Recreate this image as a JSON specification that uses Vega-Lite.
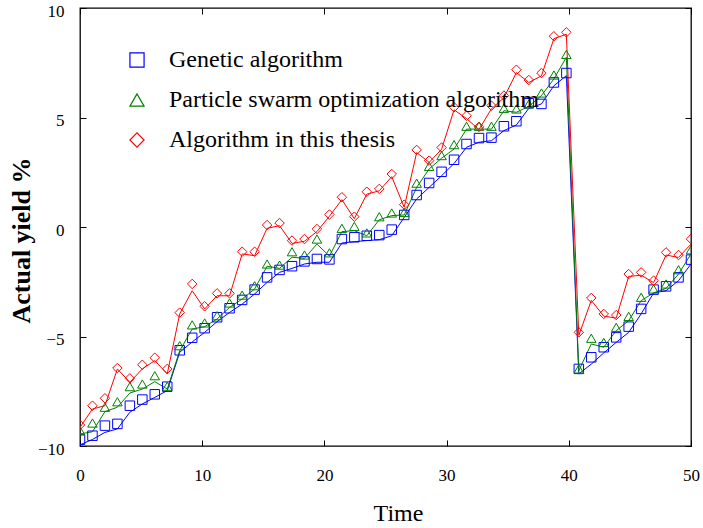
{
"$schema":"https://vega.github.io/schema/vega-lite/v6.json",
"width":611,"height":438,
"autosize":{"type":"none"},
"padding":{"left":80,"top":8,"right":12,"bottom":82},
"background":"white",
"config":{
 "view":{"stroke":"#000","strokeWidth":1.3},
 "font":"Liberation Serif",
 "axis":{"domain":false,"grid":false,"tickColor":"#000","tickSize":-6,"tickWidth":1,"labelFlush":false,"labelFont":"Liberation Serif","labelFontSize":17,"labelColor":"#000","titleColor":"#000","titleFont":"Liberation Serif","titleFontWeight":"normal"},
 "legend":{"labelFont":"Liberation Serif"}
},
"data":{"values":[
{"t":0,"s":"Genetic algorithm","m":-9.71,"l":-9.95},
{"t":1.02,"s":"Genetic algorithm","m":-9.53,"l":-9.7},
{"t":2.04,"s":"Genetic algorithm","m":-9.07,"l":-9.38},
{"t":3.06,"s":"Genetic algorithm","m":-8.99,"l":-9.22},
{"t":4.08,"s":"Genetic algorithm","m":-8.16,"l":-8.46},
{"t":5.1,"s":"Genetic algorithm","m":-7.88,"l":-8.08},
{"t":6.12,"s":"Genetic algorithm","m":-7.64,"l":-7.78},
{"t":7.14,"s":"Genetic algorithm","m":-7.29,"l":-7.47},
{"t":8.16,"s":"Genetic algorithm","m":-5.63,"l":-5.72},
{"t":9.18,"s":"Genetic algorithm","m":-5.06,"l":-5.25},
{"t":10.2,"s":"Genetic algorithm","m":-4.62,"l":-4.81},
{"t":11.22,"s":"Genetic algorithm","m":-4.12,"l":-4.32},
{"t":12.24,"s":"Genetic algorithm","m":-3.71,"l":-3.9},
{"t":13.27,"s":"Genetic algorithm","m":-3.33,"l":-3.52},
{"t":14.29,"s":"Genetic algorithm","m":-2.86,"l":-3.06},
{"t":15.31,"s":"Genetic algorithm","m":-2.3,"l":-2.53},
{"t":16.33,"s":"Genetic algorithm","m":-1.96,"l":-2.07},
{"t":17.35,"s":"Genetic algorithm","m":-1.79,"l":-1.89},
{"t":18.37,"s":"Genetic algorithm","m":-1.57,"l":-1.69},
{"t":19.39,"s":"Genetic algorithm","m":-1.46,"l":-1.61},
{"t":20.41,"s":"Genetic algorithm","m":-1.48,"l":-1.61},
{"t":21.43,"s":"Genetic algorithm","m":-0.55,"l":-0.73},
{"t":22.45,"s":"Genetic algorithm","m":-0.47,"l":-0.67},
{"t":23.47,"s":"Genetic algorithm","m":-0.4,"l":-0.62},
{"t":24.49,"s":"Genetic algorithm","m":-0.37,"l":-0.58},
{"t":25.51,"s":"Genetic algorithm","m":-0.12,"l":-0.4},
{"t":26.53,"s":"Genetic algorithm","m":0.55,"l":0.44},
{"t":27.55,"s":"Genetic algorithm","m":1.46,"l":1.28},
{"t":28.57,"s":"Genetic algorithm","m":2.01,"l":1.81},
{"t":29.59,"s":"Genetic algorithm","m":2.52,"l":2.34},
{"t":30.61,"s":"Genetic algorithm","m":3.07,"l":2.9},
{"t":31.63,"s":"Genetic algorithm","m":3.79,"l":3.64},
{"t":32.65,"s":"Genetic algorithm","m":4.06,"l":3.87},
{"t":33.67,"s":"Genetic algorithm","m":4.08,"l":3.94},
{"t":34.69,"s":"Genetic algorithm","m":4.6,"l":4.4},
{"t":35.71,"s":"Genetic algorithm","m":4.83,"l":4.66},
{"t":36.73,"s":"Genetic algorithm","m":5.65,"l":5.42},
{"t":37.76,"s":"Genetic algorithm","m":5.62,"l":5.62},
{"t":38.78,"s":"Genetic algorithm","m":6.6,"l":6.45},
{"t":39.8,"s":"Genetic algorithm","m":7.03,"l":6.91},
{"t":40.82,"s":"Genetic algorithm","m":-6.48,"l":-6.71},
{"t":41.84,"s":"Genetic algorithm","m":-5.95,"l":-6.26},
{"t":42.86,"s":"Genetic algorithm","m":-5.49,"l":-5.75},
{"t":43.88,"s":"Genetic algorithm","m":-5.04,"l":-5.27},
{"t":44.9,"s":"Genetic algorithm","m":-4.55,"l":-4.81},
{"t":45.92,"s":"Genetic algorithm","m":-3.74,"l":-3.97},
{"t":46.94,"s":"Genetic algorithm","m":-2.86,"l":-3.01},
{"t":47.96,"s":"Genetic algorithm","m":-2.71,"l":-2.91},
{"t":48.98,"s":"Genetic algorithm","m":-2.3,"l":-2.45},
{"t":50,"s":"Genetic algorithm","m":-1.49,"l":-1.69},
{"t":0,"s":"Particle swarm optimization algorithm","m":-9.3,"l":-9.45},
{"t":1.02,"s":"Particle swarm optimization algorithm","m":-8.95,"l":-9.35},
{"t":2.04,"s":"Particle swarm optimization algorithm","m":-8.23,"l":-8.43},
{"t":3.06,"s":"Particle swarm optimization algorithm","m":-7.98,"l":-8.23},
{"t":4.08,"s":"Particle swarm optimization algorithm","m":-7.29,"l":-7.58},
{"t":5.1,"s":"Particle swarm optimization algorithm","m":-7.17,"l":-7.4},
{"t":6.12,"s":"Particle swarm optimization algorithm","m":-6.79,"l":-7.06},
{"t":7.14,"s":"Particle swarm optimization algorithm","m":-7.27,"l":-7.4},
{"t":8.16,"s":"Particle swarm optimization algorithm","m":-5.42,"l":-5.65},
{"t":9.18,"s":"Particle swarm optimization algorithm","m":-4.47,"l":-4.66},
{"t":10.2,"s":"Particle swarm optimization algorithm","m":-4.38,"l":-4.55},
{"t":11.22,"s":"Particle swarm optimization algorithm","m":-4.05,"l":-4.2},
{"t":12.24,"s":"Particle swarm optimization algorithm","m":-3.47,"l":-3.67},
{"t":13.27,"s":"Particle swarm optimization algorithm","m":-3.11,"l":-3.29},
{"t":14.29,"s":"Particle swarm optimization algorithm","m":-2.68,"l":-2.83},
{"t":15.31,"s":"Particle swarm optimization algorithm","m":-1.69,"l":-1.79},
{"t":16.33,"s":"Particle swarm optimization algorithm","m":-1.74,"l":-1.89},
{"t":17.35,"s":"Particle swarm optimization algorithm","m":-1.13,"l":-1.38},
{"t":18.37,"s":"Particle swarm optimization algorithm","m":-1.28,"l":-1.43},
{"t":19.39,"s":"Particle swarm optimization algorithm","m":-0.55,"l":-0.78},
{"t":20.41,"s":"Particle swarm optimization algorithm","m":-1.18,"l":-1.33},
{"t":21.43,"s":"Particle swarm optimization algorithm","m":-0.06,"l":-0.21},
{"t":22.45,"s":"Particle swarm optimization algorithm","m":0.03,"l":-0.17},
{"t":23.47,"s":"Particle swarm optimization algorithm","m":-0.27,"l":-0.4},
{"t":24.49,"s":"Particle swarm optimization algorithm","m":0.47,"l":0.33},
{"t":25.51,"s":"Particle swarm optimization algorithm","m":0.64,"l":0.52},
{"t":26.53,"s":"Particle swarm optimization algorithm","m":0.67,"l":0.55},
{"t":27.55,"s":"Particle swarm optimization algorithm","m":2.0,"l":1.81},
{"t":28.57,"s":"Particle swarm optimization algorithm","m":2.77,"l":2.65},
{"t":29.59,"s":"Particle swarm optimization algorithm","m":3.26,"l":3.14},
{"t":30.61,"s":"Particle swarm optimization algorithm","m":3.76,"l":3.56},
{"t":31.63,"s":"Particle swarm optimization algorithm","m":4.6,"l":4.47},
{"t":32.65,"s":"Particle swarm optimization algorithm","m":4.6,"l":4.47},
{"t":33.67,"s":"Particle swarm optimization algorithm","m":4.6,"l":4.47},
{"t":34.69,"s":"Particle swarm optimization algorithm","m":5.42,"l":5.31},
{"t":35.71,"s":"Particle swarm optimization algorithm","m":5.39,"l":5.24},
{"t":36.73,"s":"Particle swarm optimization algorithm","m":5.62,"l":5.51},
{"t":37.76,"s":"Particle swarm optimization algorithm","m":6.12,"l":6.0},
{"t":38.78,"s":"Particle swarm optimization algorithm","m":6.94,"l":6.76},
{"t":39.8,"s":"Particle swarm optimization algorithm","m":7.88,"l":7.75},
{"t":40.82,"s":"Particle swarm optimization algorithm","m":-6.48,"l":-6.56},
{"t":41.84,"s":"Particle swarm optimization algorithm","m":-5.08,"l":-5.34},
{"t":42.86,"s":"Particle swarm optimization algorithm","m":-5.27,"l":-5.49},
{"t":43.88,"s":"Particle swarm optimization algorithm","m":-4.58,"l":-4.73},
{"t":44.9,"s":"Particle swarm optimization algorithm","m":-4.08,"l":-4.28},
{"t":45.92,"s":"Particle swarm optimization algorithm","m":-3.21,"l":-3.36},
{"t":46.94,"s":"Particle swarm optimization algorithm","m":-2.83,"l":-3.01},
{"t":47.96,"s":"Particle swarm optimization algorithm","m":-2.6,"l":-2.8},
{"t":48.98,"s":"Particle swarm optimization algorithm","m":-1.95,"l":-2.15},
{"t":50,"s":"Particle swarm optimization algorithm","m":-1.04,"l":-1.23},
{"t":0,"s":"Algorithm in this thesis","m":-9.04,"l":-9.15},
{"t":1.02,"s":"Algorithm in this thesis","m":-8.16,"l":-8.31},
{"t":2.04,"s":"Algorithm in this thesis","m":-7.82,"l":-8.16},
{"t":3.06,"s":"Algorithm in this thesis","m":-6.44,"l":-6.48},
{"t":4.08,"s":"Algorithm in this thesis","m":-6.91,"l":-7.09},
{"t":5.1,"s":"Algorithm in this thesis","m":-6.29,"l":-6.48},
{"t":6.12,"s":"Algorithm in this thesis","m":-5.97,"l":-6.1},
{"t":7.14,"s":"Algorithm in this thesis","m":-6.48,"l":-6.71},
{"t":8.16,"s":"Algorithm in this thesis","m":-3.91,"l":-3.97},
{"t":9.18,"s":"Algorithm in this thesis","m":-2.6,"l":-2.91},
{"t":10.2,"s":"Algorithm in this thesis","m":-3.62,"l":-3.74},
{"t":11.22,"s":"Algorithm in this thesis","m":-3.03,"l":-3.14},
{"t":12.24,"s":"Algorithm in this thesis","m":-3.03,"l":-3.14},
{"t":13.27,"s":"Algorithm in this thesis","m":-1.13,"l":-1.23},
{"t":14.29,"s":"Algorithm in this thesis","m":-1.13,"l":-1.31},
{"t":15.31,"s":"Algorithm in this thesis","m":0.09,"l":-0.06},
{"t":16.33,"s":"Algorithm in this thesis","m":0.18,"l":0.06},
{"t":17.35,"s":"Algorithm in this thesis","m":-0.62,"l":-0.75},
{"t":18.37,"s":"Algorithm in this thesis","m":-0.55,"l":-0.65},
{"t":19.39,"s":"Algorithm in this thesis","m":-0.09,"l":-0.21},
{"t":20.41,"s":"Algorithm in this thesis","m":0.57,"l":0.49},
{"t":21.43,"s":"Algorithm in this thesis","m":1.36,"l":1.25},
{"t":22.45,"s":"Algorithm in this thesis","m":0.47,"l":0.38},
{"t":23.47,"s":"Algorithm in this thesis","m":1.61,"l":1.5},
{"t":24.49,"s":"Algorithm in this thesis","m":1.74,"l":1.65},
{"t":25.51,"s":"Algorithm in this thesis","m":2.42,"l":2.3},
{"t":26.53,"s":"Algorithm in this thesis","m":1.02,"l":0.9},
{"t":27.55,"s":"Algorithm in this thesis","m":3.52,"l":3.4},
{"t":28.57,"s":"Algorithm in this thesis","m":3.03,"l":2.95},
{"t":29.59,"s":"Algorithm in this thesis","m":3.63,"l":3.55},
{"t":30.61,"s":"Algorithm in this thesis","m":5.47,"l":5.35},
{"t":31.63,"s":"Algorithm in this thesis","m":5.08,"l":4.95},
{"t":32.65,"s":"Algorithm in this thesis","m":4.57,"l":4.45},
{"t":33.67,"s":"Algorithm in this thesis","m":5.54,"l":5.4},
{"t":34.69,"s":"Algorithm in this thesis","m":6.0,"l":5.9},
{"t":35.71,"s":"Algorithm in this thesis","m":7.18,"l":7.05},
{"t":36.73,"s":"Algorithm in this thesis","m":6.71,"l":6.6},
{"t":37.76,"s":"Algorithm in this thesis","m":7.03,"l":6.9},
{"t":38.78,"s":"Algorithm in this thesis","m":8.71,"l":8.6},
{"t":39.8,"s":"Algorithm in this thesis","m":8.89,"l":8.8},
{"t":40.82,"s":"Algorithm in this thesis","m":-4.81,"l":-4.95},
{"t":41.84,"s":"Algorithm in this thesis","m":-3.24,"l":-3.35},
{"t":42.86,"s":"Algorithm in this thesis","m":-3.97,"l":-4.07},
{"t":43.88,"s":"Algorithm in this thesis","m":-4.02,"l":-4.16},
{"t":44.9,"s":"Algorithm in this thesis","m":-2.15,"l":-2.26},
{"t":45.92,"s":"Algorithm in this thesis","m":-2.07,"l":-2.2},
{"t":46.94,"s":"Algorithm in this thesis","m":-2.45,"l":-2.54},
{"t":47.96,"s":"Algorithm in this thesis","m":-1.16,"l":-1.28},
{"t":48.98,"s":"Algorithm in this thesis","m":-1.28,"l":-1.39},
{"t":50,"s":"Algorithm in this thesis","m":-0.55,"l":-0.78}
]},
"layer":[
 {"mark":{"type":"line","strokeWidth":1,"clip":true},
  "encoding":{
   "x":{"field":"t","type":"quantitative","scale":{"domain":[0,50],"nice":false},"axis":{"orient":"top","labels":false,"title":null,"values":[0,10,20,30,40,50]}},
   "y":{"field":"l","type":"quantitative","scale":{"domain":[-10,10],"nice":false},"axis":{"orient":"right","labels":false,"title":null,"values":[-10,-5,0,5,10]}},
   "color":{"field":"s","type":"nominal","scale":{"domain":["Genetic algorithm","Particle swarm optimization algorithm","Algorithm in this thesis"],"range":["#0000ff","#008000","#ff0000"]},"legend":null}
  }},
 {"mark":{"type":"point","filled":false,"strokeWidth":1,"size":90,"opacity":1,"clip":true},
  "encoding":{
   "x":{"field":"t","type":"quantitative","scale":{"domain":[0,50],"nice":false},"axis":{"orient":"bottom","values":[0,10,20,30,40,50],"title":"Time","titleFont":"Liberation Serif","labelFont":"Liberation Serif","titleFontSize":24,"labelPadding":27,"labelBaseline":"top","titlePadding":18,"titleX":318}},
   "y":{"field":"m","type":"quantitative","scale":{"domain":[-10,10],"nice":false},"axis":{"orient":"left","values":[-10,-5,0,5,10],"title":"Actual yield %","titleFont":"Liberation Serif","labelFont":"Liberation Serif","titleFontSize":26,"titleFontWeight":"bold","labelPadding":22,"labelOffset":3,"titlePadding":3,"titleY":232}},
   "color":{"field":"s","type":"nominal","scale":{"domain":["Genetic algorithm","Particle swarm optimization algorithm","Algorithm in this thesis"],"range":["#0000ff","#008000","#ff0000"]},
     "legend":{"title":null,"orient":"none","legendX":45,"legendY":40,"padding":0,"labelFont":"Liberation Serif","labelFontSize":24,"labelColor":"#000","labelOffset":20,"labelLimit":600,"rowPadding":16,"symbolSize":200,"symbolStrokeWidth":1.2}},
   "shape":{"field":"s","type":"nominal","scale":{"domain":["Genetic algorithm","Particle swarm optimization algorithm","Algorithm in this thesis"],"range":["square","triangle-up","diamond"]}}
  }}
],
"resolve":{"axis":{"x":"independent","y":"independent"},"legend":{"color":"independent","shape":"independent"}}
}
